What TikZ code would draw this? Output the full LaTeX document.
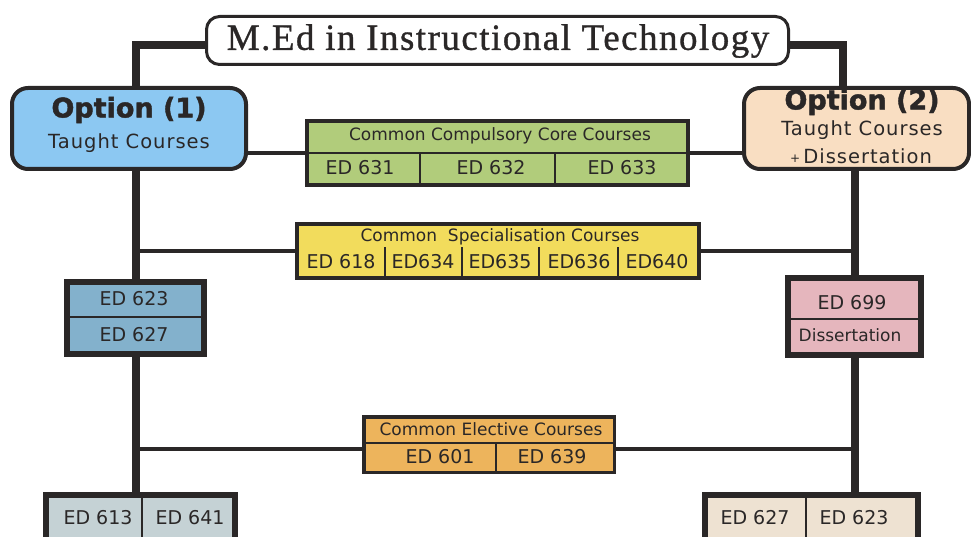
\documentclass[tikz,border=0pt]{standalone}
\usepackage{fontspec}
\setmainfont{DejaVu Sans}
\newfontfamily\titlefont[FakeBold=0.9,LetterSpace=4]{Liberation Serif}
\newfontfamily\heavyfont[FakeBold=1.6]{DejaVu Sans}
\newfontfamily\widefont[LetterSpace=5]{DejaVu Sans}
\usetikzlibrary{calc,backgrounds}
\definecolor{ink}{HTML}{2A2727}
\definecolor{optblue}{HTML}{8CC8F2}
\definecolor{optpeach}{HTML}{F9DEC2}
\definecolor{coregreen}{HTML}{B1CC7B}
\definecolor{specyellow}{HTML}{F2DC5C}
\definecolor{steelblue}{HTML}{83B1CC}
\definecolor{rosepink}{HTML}{E5B6BD}
\definecolor{electorange}{HTML}{EDB45C}
\definecolor{greyblue}{HTML}{C5D2D5}
\definecolor{linen}{HTML}{EEE2D2}
\newcommand\fsz[1]{\fontsize{#1}{#1}\selectfont}

\begin{document}
\begin{tikzpicture}[x=1pt,y=-1pt,
  panel/.style={draw=ink, rectangle, inner sep=0pt, line width=#1},
  panel/.default=4pt,
  cell/.style={text=ink, inner sep=0pt, font=\fsz{19}},
  head/.style={text=ink, inner sep=0pt, font=\fsz{17}},
  optname/.style={text=ink, inner sep=0pt, font=\heavyfont\bfseries\fsz{27}},
  optsub/.style={text=ink, inner sep=0pt, font=\widefont\fsz{19.5}},
  spine/.style={draw=ink, line width=8pt},
  link/.style={draw=ink, line width=4pt},
  divider/.style={draw=ink, line width=1.2pt}]
\useasboundingbox (0,0) rectangle (971,537);
\clip (0,0) rectangle (971,537);

% spine anchors
\coordinate (lspine) at (136,0);
\coordinate (rspine) at (855,0);
\coordinate (rtop) at (843,0);

% title
\node[panel=3pt, fill=white, rounded corners=13pt, minimum width=582pt,
      minimum height=48pt] (title) at (497.5,40.5) {};
\node[text=ink, inner sep=0pt, font=\titlefont\fsz{37}] (titletext) at (498,41)
  {M.Ed in Instructional Technology};

% options
\node[panel, fill=optblue, rounded corners=16pt, minimum width=234pt,
      minimum height=81pt] (opt1) at (129,128.5) {};
\node[optname] (opt1name) at (129,110) {Option (1)};
\node[optsub] (opt1sub) at (129,143) {Taught Courses};

\node[panel, fill=optpeach, rounded corners=16pt, minimum width=225pt,
      minimum height=81pt] (opt2) at (856.5,128.5) {};
\node[optname] (opt2name) at (862,102) {Option (2)};
\node[optsub] (opt2sub) at (862,130) {Taught Courses};
\node[optsub] (opt2diss) at (861,156) {\raisebox{1pt}{\fsz{12}+}\,Dissertation};

% common compulsory core
\node[panel, fill=coregreen, minimum width=381pt, minimum height=64pt] (core) at (497.5,153) {};
\draw[divider] (core.west) -- (core.east);
\draw[divider] (420,153) -- (420,187);
\draw[divider] (555,153) -- (555,187);
\node[head] (corehead) at (500,136) {Common Compulsory Core Courses};
\node[cell] (c631) at (360,168) {ED 631};
\node[cell] (c632) at (491,168) {ED 632};
\node[cell] (c633) at (622,168) {ED 633};

% common specialisation
\node[panel, fill=specyellow, minimum width=402pt, minimum height=54pt] (spec) at (498,251) {};
\foreach \xd in {385,462,539,618} \draw[divider] (\xd,247) -- (\xd,279);
\node[head] (spechead) at (500,237) {Common\ \ Specialisation Courses};
\node[cell] (s618) at (341,262) {ED 618};
\node[cell] (s634) at (423,262) {ED634};
\node[cell] (s635) at (500,262) {ED635};
\node[cell] (s636) at (579,262) {ED636};
\node[cell] (s640) at (657,262) {ED640};

% option 1 specific courses
\node[panel=6pt, fill=steelblue, minimum width=137pt, minimum height=72pt] (ed623box) at (135.5,318) {};
\draw[divider] (ed623box.west |- 0,317) -- (ed623box.east |- 0,317);
\node[cell] (l623) at (134,299) {ED 623};
\node[cell] (l627) at (134,335) {ED 627};

% option 2 dissertation
\node[panel=6pt, fill=rosepink, minimum width=133pt, minimum height=77pt] (ed699box) at (854.5,316.5) {};
\draw[divider] (ed699box.west |- 0,319) -- (ed699box.east |- 0,319);
\node[cell] (r699) at (852,303) {ED 699};
\node[head] (rdiss) at (850,335) {Dissertation};

% common electives
\node[panel=3.5pt, fill=electorange, minimum width=250.5pt, minimum height=55.5pt] (elect) at (489,444.5) {};
\draw[divider] (elect.west |- 0,443) -- (elect.east |- 0,443);
\draw[divider] (496,443) -- (496,474);
\node[head] (electhead) at (491,429) {Common Elective Courses};
\node[cell] (e601) at (440,457) {ED 601};
\node[cell] (e639) at (552,457) {ED 639};

% bottom boxes
\node[panel=6pt, fill=greyblue, minimum width=189pt, minimum height=70pt] (bl) at (140.5,530) {};
\draw[divider] (142,492) -- (142,570);
\node[cell] (b613) at (98,518) {ED 613};
\node[cell] (b641) at (190,518) {ED 641};

\node[panel=6pt, fill=linen, minimum width=213pt, minimum height=70pt] (br) at (811.5,530) {};
\draw[divider] (806,492) -- (806,570);
\node[cell] (b627) at (755,518) {ED 627};
\node[cell] (b623) at (854,518) {ED 623};

% connectors
\coordinate (tW) at ([yshift=-4.5pt]title.west);
\coordinate (tE) at ([yshift=-4.5pt]title.east);
\coordinate (eW) at ([yshift=-4.5pt]elect.west);
\coordinate (eE) at ([yshift=-4.5pt]elect.east);
\begin{pgfonlayer}{background}
  \draw[spine, line join=miter] (tW) -| (lspine |- opt1.north);
  \draw[spine, line join=miter] (tE) -| (rtop |- opt2.north);
  \draw[spine] (lspine |- opt1.south) -- (lspine |- bl.north);
  \draw[spine] (rspine |- opt2.south) -- (rspine |- ed699box.north);
  \draw[spine] (rspine |- ed699box.south) -- (rspine |- br.north);
  \draw[link] (opt1.east |- core.west) -- (core.west);
  \draw[link] (core.east) -- (core.east -| opt2.west);
  \draw[link] (spec.west) -- (spec.west -| lspine);
  \draw[link] (spec.east) -- (spec.east -| rspine);
  \draw[link] (eW) -- (eW -| lspine);
  \draw[link] (eE) -- (eE -| rspine);
\end{pgfonlayer}
\end{tikzpicture}
\end{document}
